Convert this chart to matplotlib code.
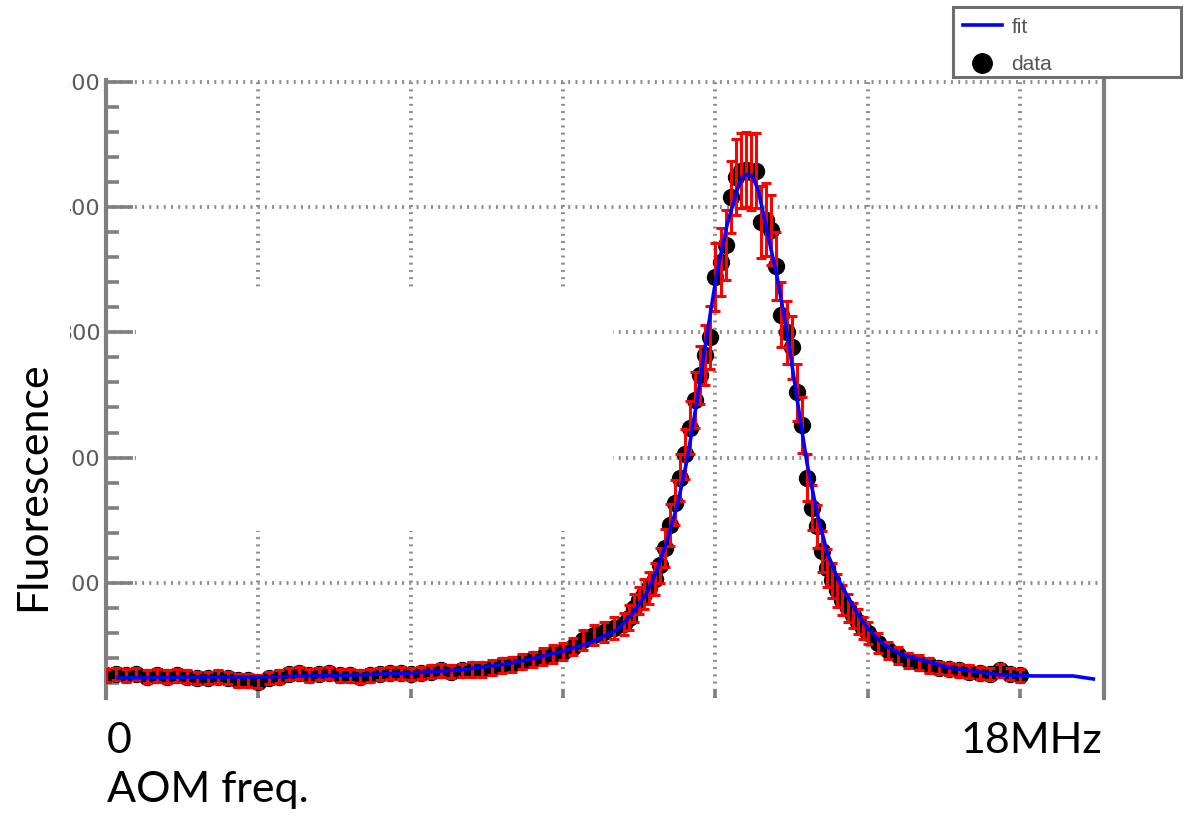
import numpy as np
import matplotlib.pyplot as plt
from matplotlib.lines import Line2D
from matplotlib.patches import Rectangle
from matplotlib.ticker import MultipleLocator

# measured points (AOM frequency in MHz, fluorescence counts)
freq = [0.0, 0.2, 0.4, 0.6, 0.8, 1.0, 1.2, 1.4, 1.6, 1.8,
        2.0, 2.2, 2.4, 2.6, 2.8, 3.0, 3.2, 3.4, 3.6, 3.8,
        4.0, 4.2, 4.4, 4.6, 4.8, 5.0, 5.2, 5.4, 5.6, 5.8,
        6.0, 6.2, 6.4, 6.6, 6.8, 7.0, 7.2, 7.4, 7.6, 7.8,
        8.0, 8.2, 8.4, 8.6, 8.8, 9.0, 9.2, 9.4, 9.6, 9.8,
        10.0, 10.2, 10.3, 10.4, 10.5, 10.6, 10.7, 10.8, 10.9,
        11.0, 11.1, 11.2, 11.3, 11.4, 11.5, 11.6, 11.7, 11.8, 11.9,
        12.0, 12.1, 12.2, 12.3, 12.4, 12.5, 12.6, 12.7, 12.8, 12.9,
        13.0, 13.1, 13.2, 13.3, 13.4, 13.5, 13.6, 13.7, 13.8, 13.9,
        14.0, 14.1, 14.2, 14.3, 14.4, 14.5, 14.6, 14.7, 14.8, 14.9,
        15.0, 15.2, 15.4, 15.6, 15.8, 16.0, 16.2, 16.4, 16.6, 16.8,
        17.0, 17.2, 17.4, 17.6, 17.8, 18.0]
counts = [26, 27, 26, 27, 25, 26, 25, 26, 25, 24,
          24, 25, 24, 22, 22, 21, 24, 25, 27, 28,
          26, 27, 28, 26, 26, 25, 26, 27, 28, 28,
          27, 28, 29, 30, 29, 30, 31, 31, 32, 34,
          35, 37, 39, 41, 43, 45, 49, 54, 58, 61,
          64, 67, 72, 80, 86, 91, 96, 103, 114,
          128, 146, 164, 184, 203, 224, 246, 266, 282, 296,
          344, 356, 370, 408, 424, 429, 430, 428, 429, 388,
          390, 382, 353, 314, 300, 288, 252, 226, 184, 160,
          145, 125, 112, 102, 94, 86, 80, 74, 69, 64,
          60, 52, 46, 42, 38, 36, 34, 32, 31, 30,
          29, 28, 27, 30, 27, 26]
errors = [5, 5, 5, 5, 5, 5, 5, 5, 5, 5,
          5, 5, 5, 5, 5, 5, 5, 5, 5, 5,
          5, 5, 5, 5, 5, 5, 5, 5, 5, 5,
          5, 5, 5, 5, 5, 5, 6, 6, 6, 6,
          6, 6, 6, 7, 7, 7, 7, 8, 8, 8,
          9, 9, 10, 11, 11, 12, 13, 13, 14,
          15, 17, 18, 19, 20, 21, 22, 23, 24, 25,
          27, 27, 28, 29, 30, 30, 30, 30, 30, 29,
          29, 28, 27, 26, 25, 25, 23, 22, 19, 18,
          17, 16, 15, 14, 13, 12, 11, 10, 10, 9,
          9, 8, 7, 7, 6, 6, 6, 5, 5, 5,
          5, 5, 5, 5, 5, 5]

# fitted line profile
fit_freq = [0.24, 1.71, 3.03, 5.0, 6.0, 6.97, 7.76, 8.29, 8.94, 9.53,
            10.06, 10.38, 10.65, 10.85, 11.05, 11.25, 11.44, 11.64, 11.84,
            12.03, 12.23, 12.43, 12.53, 12.62, 12.72, 12.84, 13.02, 13.21,
            13.41, 13.61, 13.8, 14.0, 14.2, 14.4, 14.59, 14.8, 14.99,
            15.3, 15.64, 16.62, 17.61, 18.26, 19.04, 19.44]
fit_counts = [24, 24.8, 24.8, 26.4, 28, 30.4, 34.4, 38.4, 44.8, 52,
              62.4, 76, 92, 110, 134, 162, 198, 246, 300,
              348, 386, 414, 424, 426, 425, 414, 380, 345,
              300, 246, 196, 156, 124, 104, 90, 75, 64,
              51, 43, 32, 26.4, 25.6, 25.6, 23.2]

W, H = 1186, 819
GRAY = '#7f7f7f'
plt.rcParams['lines.scale_dashes'] = False

fig = plt.figure(figsize=(W / 100, H / 100), dpi=100)
ax = fig.add_axes([106 / W, 121 / H, 998 / W, 618 / H])
ax.set_xlim(0, 19.65)
ax.set_ylim(8, 501.5)

ax.plot(freq, counts, 'o', color='black', markersize=11.5, zorder=2)
ax.errorbar(freq, counts, yerr=errors, fmt='none', ecolor='red',
            elinewidth=2.2, capsize=3.5, capthick=2.2, zorder=3)
ax.plot(fit_freq, fit_counts, color='#0000ff', lw=2.6, zorder=4)

# blanked-out patch in the upper left of the frame
ax.add_patch(Rectangle((0.6, 141), 9.38, 192, facecolor='white',
                       edgecolor='none', zorder=1))

ax.set_axisbelow(True)
ax.grid(True, which='major', color='#8c8c8c', linewidth=2.8,
        linestyle=(0, (1.4, 3.8)))
ax.xaxis.set_major_locator(MultipleLocator(3))
ax.yaxis.set_major_locator(MultipleLocator(100))
ax.yaxis.set_minor_locator(MultipleLocator(20))
ax.tick_params(axis='y', which='major', direction='in', length=19.5,
               width=2.6, color=GRAY, labelsize=16, labelcolor='#5a5a5a',
               pad=4)
ax.tick_params(axis='y', which='minor', direction='in', length=9.5,
               width=2.6, color=GRAY)
ax.tick_params(axis='x', which='major', direction='in', length=6,
               width=2.6, color=GRAY, labelbottom=False)
for side in ('top', 'bottom'):
    ax.spines[side].set_visible(False)
for side in ('left', 'right'):
    ax.spines[side].set_color(GRAY)
    ax.spines[side].set_linewidth(3)

# cropped-off part of the tick labels
fig.add_artist(Rectangle((0, 0), 70 / W, 1, transform=fig.transFigure,
                         facecolor='white', edgecolor='none', zorder=5))

# legend box
fig.add_artist(Rectangle((953 / W, 1 - 77 / H), 228 / W, 70 / H,
                         transform=fig.transFigure, facecolor='white',
                         edgecolor='#6e6e6e', lw=2.2, zorder=6))
handles = [Line2D([], [], color='#0000ff', lw=2.6),
           Line2D([], [], marker='o', ls='none', color='black', markersize=14)]
leg = fig.legend(handles, ['fit', 'data'], loc='upper left',
                 bbox_to_anchor=(946 / W, 1 - 1 / H), frameon=False,
                 prop={'family': 'Liberation Sans', 'size': 15},
                 labelcolor='#555555', handlelength=1.9, handletextpad=0.45,
                 labelspacing=0.9, borderpad=0.3)
leg.set_zorder(7)

big = {'family': 'Lato', 'size': 31, 'color': 'black', 'zorder': 8}
fig.text(33 / W, 1 - 486 / H, 'Fluorescence', rotation=90,
         ha='center', va='center', **big)
fig.text(107 / W, 1 - 753 / H, '0', ha='left', va='baseline', **big)
fig.text(1102 / W, 1 - 753 / H, '18MHz', ha='right', va='baseline', **big)
fig.text(107 / W, 1 - 802 / H, 'AOM freq.', ha='left', va='baseline', **big)

fig.savefig('out.png', dpi=100)
